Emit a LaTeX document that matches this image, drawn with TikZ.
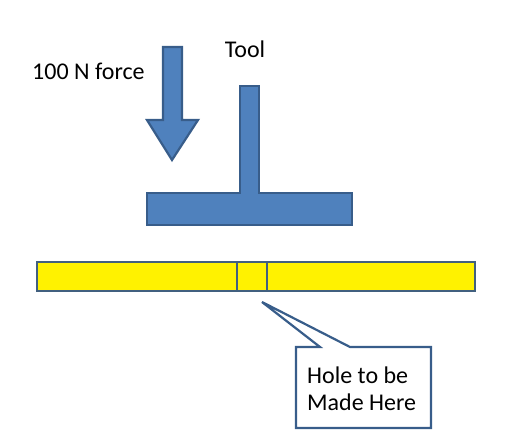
\documentclass[tikz,border=0pt]{standalone}
\usepackage{fontspec}
\setmainfont{Carlito}
\usetikzlibrary{calc,positioning}

\definecolor{toolfill}{RGB}{79,129,189}
\definecolor{toolline}{RGB}{56,93,138}
\definecolor{barline}{RGB}{65,96,127}

\begin{document}
\begin{tikzpicture}[
  x=1pt, y=-1pt,
  line join=miter,
  body/.style  = {fill=toolfill, draw=toolline, line width=2.2pt},
  plate/.style = {fill=yellow, draw=barline, line width=2.4pt},
  bubble/.style= {fill=white, draw=toolline, line width=2.2pt},
  lbl/.style   = {font=\fontsize{24}{27}\selectfont, inner sep=0pt},
]
\useasboundingbox (0,0) rectangle (516,444);

%% ------------------------------------------------------------------ FORCE
\draw[body] (163,47) -- (182,47) -- (182,120) -- (198,120) -- (172,160)
            -- (147,120) -- (163,120) -- cycle;
\node[lbl, anchor=base west] (force) at (32,79) {100 N force};

%% ------------------------------------------------------------------ TOOL
\draw[body] (240,86) -- (259,86) -- (259,193) -- (352,193) -- (352,225)
            -- (147,225) -- (147,193) -- (240,193) -- cycle;
\node[lbl, anchor=base] (tool) at (245,57) {Tool};

%% ------------------------------------------------------------------ WORKPIECE
\draw[plate] (37,262) rectangle (475,291);
\draw[barline, line width=2.2pt] (237,262) -- (237,291);  % hole edges
\draw[barline, line width=2.2pt] (267,262) -- (267,291);

%% ------------------------------------------------------------------ CALLOUT
\coordinate (tip) at (262,302);
\draw[bubble] (296,347) -- (320,347) -- (tip) -- (350,347) -- (431,347)
              -- (431,428) -- (296,428) -- cycle;
\node[lbl, align=left, anchor=west] (note) at (307,388.5)
  {Hole to be\\Made Here};

\end{tikzpicture}
\end{document}
